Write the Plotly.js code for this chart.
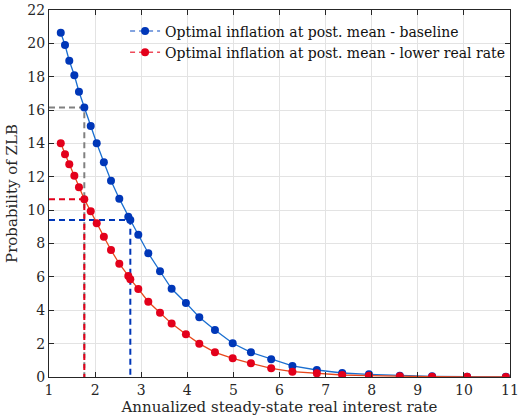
<!DOCTYPE html>
<html>
<head>
<meta charset="utf-8">
<script src="https://cdn.plot.ly/plotly-3.0.1.min.js"></script>
<style>html,body{margin:0;padding:0;background:#fff;}#chart{width:521px;height:418px;}</style>
</head>
<body>
<div id="chart"></div>
<script>
// Annualized steady-state real interest rate (x)
var rate = [1.255,1.347,1.44,1.55,1.65,1.766,1.905,2.035,2.19,2.345,2.525,2.72,2.764,2.937,3.154,3.408,3.66,3.97,4.26,4.60,4.985,5.38,5.82,6.28,6.81,7.36,7.94,8.61,9.31,10.07,10.91];
// Probability of ZLB - baseline
var baseline = [20.64,19.90,18.96,18.09,17.10,16.15,15.05,14.01,12.87,11.77,10.69,9.61,9.41,8.53,7.42,6.34,5.29,4.44,3.58,2.82,2.02,1.48,1.06,0.66,0.42,0.24,0.16,0.08,0.04,0.02,0.01];
// Probability of ZLB - lower real rate
var lowerRate = [14.01,13.35,12.75,12.07,11.37,10.65,9.93,9.21,8.41,7.61,6.79,6.06,5.86,5.28,4.51,3.85,3.20,2.56,2.00,1.48,1.12,0.82,0.52,0.32,0.22,0.12,0.08,0.04,0.02,0.01,0.005];
// reference points for dashed guides
var guideLowX = 1.766, guideLowBase = 16.15, guideLowLower = 10.65;
var guideBaseX = 2.764, guideBaseVal = 9.41;
var legendNames = ["Optimal inflation at post. mean - baseline", "Optimal inflation at post. mean - lower real rate"];

var blueMk = '#0037b8', blueLn = '#1a6fd0', redMk = '#e3001b', redLn = '#e8471c';
var font = 'DejaVu Serif';
var traces = [
  {x:[1,guideLowX,guideLowX], y:[guideLowBase,guideLowBase,0], mode:'lines', line:{color:'#808080',width:2,dash:'6px,4px'}, showlegend:false, hoverinfo:'skip'},
  {x:[1,guideLowX,guideLowX], y:[guideLowLower,guideLowLower,0], mode:'lines', line:{color:redMk,width:2,dash:'6px,4px'}, showlegend:false, hoverinfo:'skip'},
  {x:[1,guideBaseX,guideBaseX], y:[guideBaseVal,guideBaseVal,0], mode:'lines', line:{color:blueMk,width:2,dash:'6px,4px'}, showlegend:false, hoverinfo:'skip'},
  {x:rate, y:baseline, mode:'lines+markers', line:{color:blueLn,width:1.3}, marker:{color:blueMk,size:8}, showlegend:false},
  {x:rate, y:lowerRate, mode:'lines+markers', line:{color:redLn,width:1.3}, marker:{color:redMk,size:8}, showlegend:false},
  {x:[null], y:[null], mode:'lines+markers', name:legendNames[0], line:{color:'#5b86d6',width:1.5,dash:'5px,4px'}, marker:{color:blueMk,size:8}},
  {x:[null], y:[null], mode:'lines+markers', name:legendNames[1], line:{color:'#ee4a5a',width:1.5,dash:'5px,4px'}, marker:{color:redMk,size:8}}
];
var axisCommon = {showline:true, mirror:'ticks', linecolor:'#262626', linewidth:1, ticks:'inside', ticklen:5, tickcolor:'#262626',
  showgrid:true, gridcolor:'#e3e3e3', gridwidth:1, zeroline:false, tickfont:{family:font,size:14,color:'#262626'}};
var layout = {
  width:521, height:418,
  margin:{l:49, r:11, t:10, b:41},
  paper_bgcolor:'#fff', plot_bgcolor:'#fff',
  font:{family:font, color:'#262626'},
  xaxis:Object.assign({}, axisCommon, {range:[1,11], dtick:1, tick0:1,
    title:{text:'Annualized steady-state real interest rate', font:{family:font,size:15,color:'#262626'}, standoff:2}}),
  yaxis:Object.assign({}, axisCommon, {range:[0,22], dtick:2, tick0:0,
    title:{text:'Probability of ZLB', font:{family:font,size:15,color:'#262626'}, standoff:6}}),
  legend:{x:0.165, y:0.985, xanchor:'left', yanchor:'top', bgcolor:'rgba(255,255,255,0)', borderwidth:0,
    font:{family:font,size:14,color:'#111'}, tracegroupgap:0, itemwidth:30},
  showlegend:true
};
Plotly.newPlot('chart', traces, layout, {displayModeBar:false, staticPlot:true});
</script>
</body>
</html>
